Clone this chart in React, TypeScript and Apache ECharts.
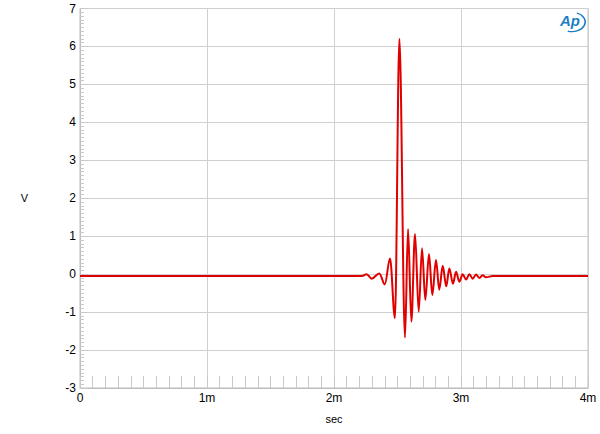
import React, { useEffect, useRef } from "react";
import * as echarts from "echarts";

const timeMs: number[] = [
  0, 2.22, 2.257, 2.297, 2.357, 2.4, 2.441, 2.48, 2.515, 2.559, 2.583, 2.609,
  2.638, 2.667, 2.693, 2.719, 2.748, 2.774, 2.803, 2.829, 2.856, 2.884, 2.908,
  2.937, 2.961, 2.987, 3.013, 3.04, 3.066, 3.092, 3.118, 3.145, 3.17, 3.196,
  3.25, 4.0,
];
const volts: number[] = [
  -0.05, -0.05, 0.0, -0.12, 0.02, -0.27, 0.41, -1.16, 6.2, -1.67, 1.19, -1.25,
  1.06, -0.99, 0.68, -0.68, 0.53, -0.55, 0.37, -0.41, 0.22, -0.32, 0.15, -0.25,
  0.06, -0.2, 0.0, -0.14, 0.0, -0.12, -0.01, -0.1, -0.03, -0.08, -0.05, -0.05,
];
const xTickLabels: string[] = ["0", "1m", "2m", "3m", "4m"];

export default function App() {
  const ref = useRef<HTMLDivElement>(null);
  useEffect(() => {
    document.body.style.margin = "0";
    if (!ref.current) return;
    const chart = echarts.init(ref.current, undefined, { renderer: "svg" });
    const data = timeMs.map((t, i) => [t, volts[i]]);
    const font = "Liberation Sans, Arial, sans-serif";
    chart.setOption({
      animation: false,
      backgroundColor: "#ffffff",
      grid: {
        left: 80,
        right: 12,
        top: 8.5,
        bottom: 46,
        show: true,
        borderColor: "#bdbdbd",
        borderWidth: 1,
      },
      xAxis: {
        type: "value",
        min: 0,
        max: 4,
        interval: 1,
        name: "sec",
        nameLocation: "middle",
        nameGap: 25,
        nameTextStyle: { color: "#000", fontFamily: font, fontSize: 11 },
        axisLine: { show: true, onZero: false, lineStyle: { color: "#bdbdbd" } },
        axisTick: {
          show: true,
          inside: true,
          length: 12,
          lineStyle: { color: "#c8c8c8" },
        },
        minorTick: {
          show: true,
          splitNumber: 10,
          length: 12,
          lineStyle: { color: "#c8c8c8" },
        },
        axisLabel: {
          color: "#000",
          fontFamily: font,
          fontSize: 12,
          margin: 4,
          formatter: (v: number) => xTickLabels[Math.round(v)] ?? "",
        },
        splitLine: { show: true, lineStyle: { color: "#d0d0d0", width: 1 } },
      },
      yAxis: {
        type: "value",
        min: -3,
        max: 7,
        interval: 1,
        name: "V",
        nameLocation: "middle",
        nameRotate: 0,
        nameGap: 52,
        nameTextStyle: { color: "#000", fontFamily: font, fontSize: 11 },
        axisLine: { show: true, onZero: false, lineStyle: { color: "#bdbdbd" } },
        axisTick: {
          show: true,
          inside: true,
          length: 8,
          lineStyle: { color: "#c8c8c8" },
        },
        minorTick: {
          show: true,
          splitNumber: 10,
          length: 4,
          lineStyle: { color: "#c8c8c8" },
        },
        axisLabel: {
          color: "#000",
          fontFamily: font,
          fontSize: 12,
          margin: 4,
        },
        splitLine: { show: true, lineStyle: { color: "#d0d0d0", width: 1 } },
      },
      series: [
        {
          type: "line",
          data,
          showSymbol: false,
          smooth: 0.35,
          smoothMonotone: "x",
          lineStyle: { color: "#e00000", width: 2 },
          z: 5,
        },
      ],
      graphic: [
        {
          type: "arc",
          shape: { cx: 572, cy: 22, r: 12, startAngle: -1.2, endAngle: 1.9 },
          style: { stroke: "#1d7fc4", lineWidth: 1.5, fill: "none" },
          scaleX: 1.1,
          scaleY: 0.8,
          originX: 572,
          originY: 22,
          z: 10,
        },
        {
          type: "text",
          x: 560,
          y: 13,
          style: {
            text: "Ap",
            fill: "#1d7fc4",
            font: "italic bold 15px Liberation Sans, Arial, sans-serif",
          },
          z: 10,
        },
      ],
    });
    return () => chart.dispose();
  }, []);
  return <div ref={ref} style={{ width: 600, height: 434 }} />;
}
